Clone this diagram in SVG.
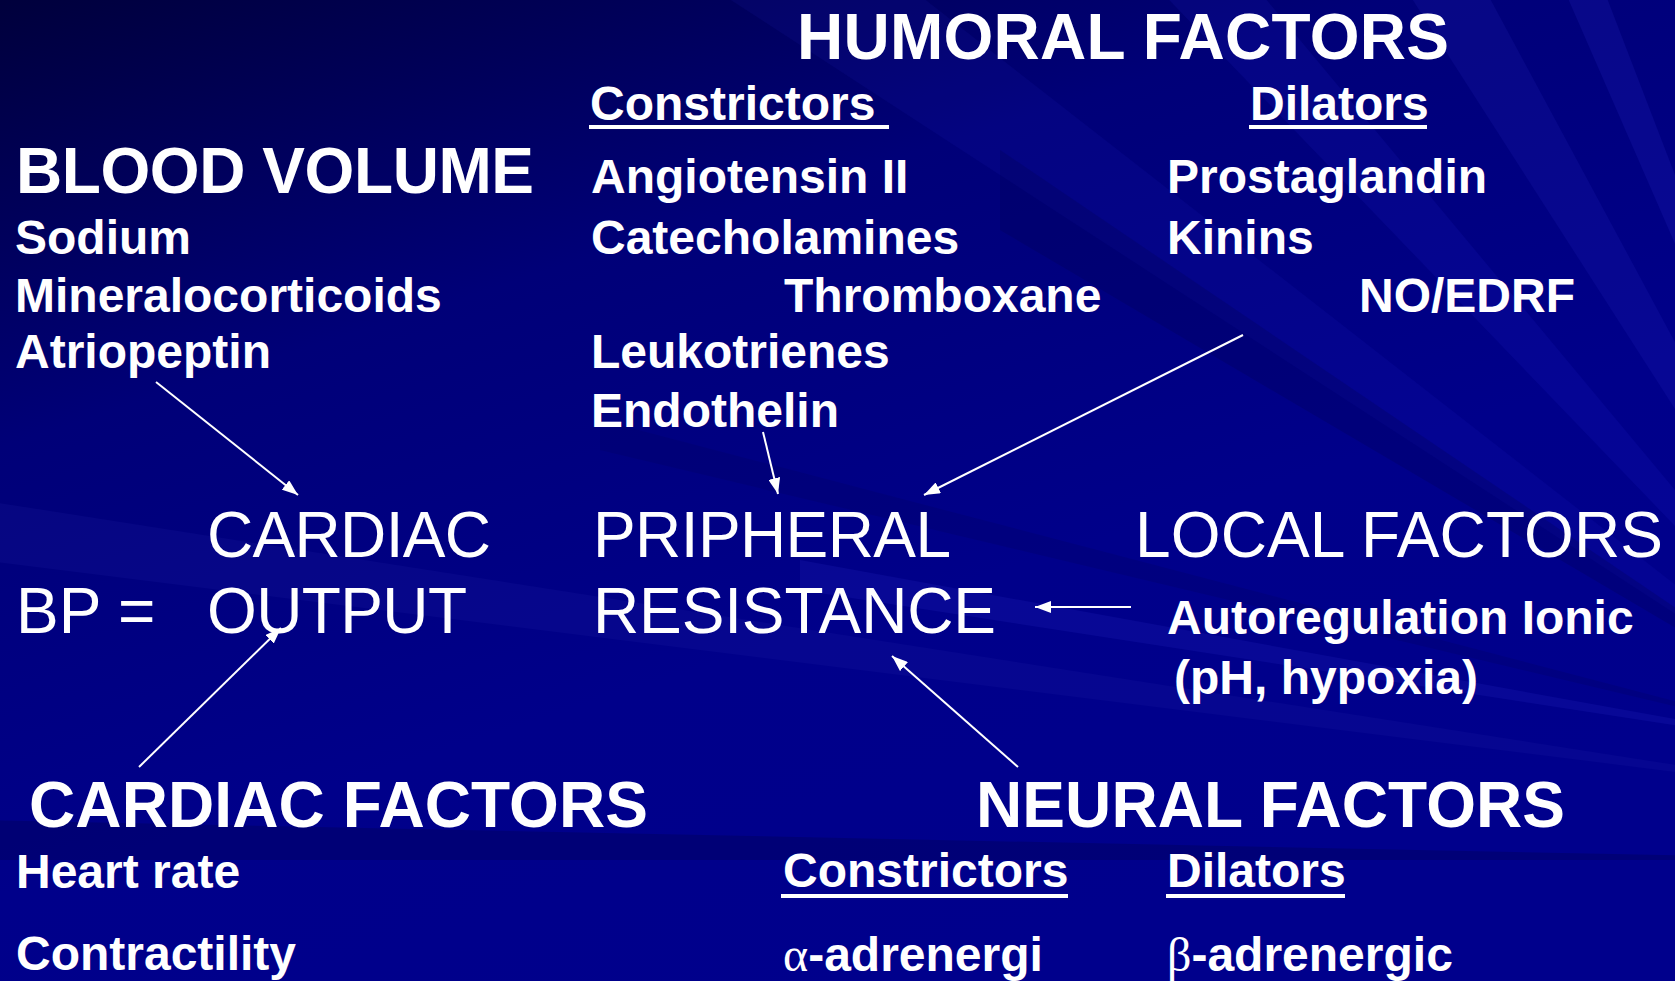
<svg xmlns="http://www.w3.org/2000/svg" width="1675" height="981" viewBox="0 0 1675 981">
<defs>
<linearGradient id="bg" x1="0" y1="0" x2="0.55" y2="1">
<stop offset="0" stop-color="#00003c"/>
<stop offset="0.35" stop-color="#000078"/>
<stop offset="0.7" stop-color="#00008a"/>
<stop offset="1" stop-color="#00008c"/>
</linearGradient>
<marker id="ah" viewBox="0 0 16 12" refX="16" refY="6" markerWidth="16" markerHeight="12" markerUnits="userSpaceOnUse" orient="auto">
<path d="M0,0 L16,6 L0,12 z" fill="#ffffff"/>
</marker>
<style>
text{fill:#ffffff;font-family:"Liberation Sans",Arial,sans-serif}
.b{font-weight:bold}
.h{font-size:64px}
.m{font-size:48px}
.r{font-size:64px;font-weight:normal}
.g{font-family:"Liberation Serif","Times New Roman",serif;font-weight:normal}
.ul{stroke:#ffffff;stroke-width:4}
.ar{stroke:#ffffff;stroke-width:2;fill:none;marker-end:url(#ah)}
</style>
</defs>
<g id="background">
<rect x="0" y="0" width="1675" height="981" fill="url(#bg)"/>
<polygon points="1900,760 700,-20 900,-20" fill="#3a3aff" opacity="0.07"/>
<polygon points="1900,760 1150,-20 1250,-20" fill="#3a3aff" opacity="0.09"/>
<polygon points="1900,760 1400,-20 1480,-20" fill="#4a4aff" opacity="0.09"/>
<polygon points="1900,760 1560,-20 1600,-20" fill="#4a4aff" opacity="0.11"/>
<polygon points="1900,760 1675,140 1675,200" fill="#000050" opacity="0.35"/>
<polygon points="1900,760 1000,150 1000,230" fill="#000050" opacity="0.25"/>
<polygon points="1900,760 800,560 800,590" fill="#5050ff" opacity="0.10"/>
<polygon points="1900,760 600,420 600,450" fill="#000060" opacity="0.25"/>
<polygon points="1900,800 -20,500 -20,560" fill="#2a2ab0" opacity="0.15"/>
<polygon points="1900,860 -20,820 -20,860" fill="#000050" opacity="0.35"/>
</g>
<g id="connectors">
<line class="ar" x1="156" y1="382" x2="298" y2="495"/>
<line class="ar" x1="763" y1="432" x2="778" y2="494"/>
<line class="ar" x1="1243" y1="335" x2="924" y2="495"/>
<line class="ar" x1="1131" y1="607" x2="1035" y2="607"/>
<line class="ar" x1="1018" y1="767" x2="892" y2="656"/>
<line class="ar" x1="139" y1="767" x2="281" y2="628"/>
</g>
<g id="humoral-factors">
<text class="b h" x="797" y="59" textLength="652">HUMORAL FACTORS</text>
<text class="b m" x="590" y="120">Constrictors</text>
<line class="ul" x1="589" y1="127" x2="889" y2="127"/>
<text class="b m" x="1250" y="120">Dilators</text>
<line class="ul" x1="1249" y1="127" x2="1427" y2="127"/>
<text class="b m" x="591" y="193">Angiotensin II</text>
<text class="b m" x="591" y="254">Catecholamines</text>
<text class="b m" x="784" y="312">Thromboxane</text>
<text class="b m" x="591" y="368">Leukotrienes</text>
<text class="b m" x="591" y="427">Endothelin</text>
<text class="b m" x="1167" y="193">Prostaglandin</text>
<text class="b m" x="1167" y="254">Kinins</text>
<text class="b m" x="1359" y="312">NO/EDRF</text>
</g>
<g id="blood-volume">
<text class="b" font-size="64" x="16" y="193" textLength="518">BLOOD VOLUME</text>
<text class="b m" x="15" y="254">Sodium</text>
<text class="b m" x="15" y="312">Mineralocorticoids</text>
<text class="b m" x="15" y="368">Atriopeptin</text>
</g>
<g id="bp">
<text class="r" x="16" y="633">BP =</text>
</g>
<g id="cardiac-output">
<text class="r" x="207" y="557" textLength="284">CARDIAC</text>
<text class="r" x="207" y="633" textLength="260">OUTPUT</text>
</g>
<g id="peripheral-resistance">
<text class="r" x="593" y="557" textLength="358">PRIPHERAL</text>
<text class="r" x="593" y="633" textLength="403">RESISTANCE</text>
</g>
<g id="local-factors">
<text class="r" x="1135" y="557" textLength="528">LOCAL FACTORS</text>
<text class="b m" x="1167" y="634">Autoregulation Ionic</text>
<text class="b m" x="1174" y="694">(pH, hypoxia)</text>
</g>
<g id="cardiac-factors">
<text class="b" font-size="64" x="29" y="827" textLength="619">CARDIAC FACTORS</text>
<text class="b m" x="16" y="888">Heart rate</text>
<text class="b m" x="16" y="970">Contractility</text>
</g>
<g id="neural-factors">
<text class="b" font-size="64" x="976" y="827" textLength="589">NEURAL FACTORS</text>
<text class="b m" x="783" y="887">Constrictors</text>
<line class="ul" x1="781" y1="896" x2="1068" y2="896"/>
<text class="b m" x="1167" y="887">Dilators</text>
<line class="ul" x1="1166" y1="896" x2="1345" y2="896"/>
<text class="b m" x="783" y="971"><tspan class="g">α</tspan>-adrenergi</text>
<text class="b m" x="1167" y="971"><tspan class="g">β</tspan>-adrenergic</text>
</g>
</svg>
